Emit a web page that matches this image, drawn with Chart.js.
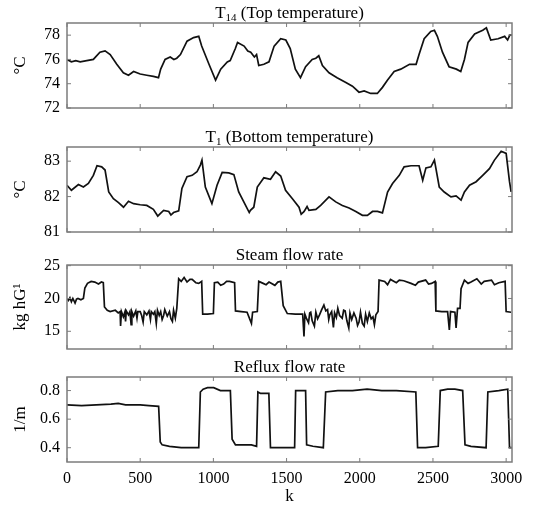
<!DOCTYPE html>
<html>
<head>
<meta charset="utf-8">
<script src="https://cdn.jsdelivr.net/npm/chart.js@4.4.1/dist/chart.umd.min.js"></script>
<style>
  html, body { margin: 0; background: #fff; }
  #wrap { position: relative; width: 552px; height: 510px; }
  #wrap canvas { position: absolute; left: 0; top: 0; }
</style>
</head>
<body>
<div id="wrap">
  <canvas id="c1" width="552" height="510"></canvas>
  <canvas id="c2" width="552" height="510"></canvas>
  <canvas id="c3" width="552" height="510"></canvas>
  <canvas id="c4" width="552" height="510"></canvas>
</div>
<script>
// sample index k and values
const t14K = [0, 30, 60, 90, 135, 180, 225, 260, 295, 340, 385, 420, 455, 500, 545, 590, 625, 640, 670, 705, 730, 750, 775, 820, 865, 900, 920, 970, 1015, 1050, 1095, 1115, 1150, 1165, 1210, 1235, 1255, 1280, 1295, 1310, 1345, 1380, 1415, 1460, 1495, 1525, 1560, 1595, 1630, 1675, 1700, 1720, 1745, 1790, 1845, 1905, 1950, 1995, 2030, 2075, 2120, 2155, 2190, 2235, 2280, 2340, 2385, 2405, 2440, 2485, 2510, 2530, 2565, 2610, 2660, 2690, 2715, 2740, 2785, 2840, 2865, 2895, 2945, 2990, 3010, 3025, 3040]
const t14 = [76.0, 75.8, 75.9, 75.8, 75.9, 76.0, 76.6, 76.7, 76.4, 75.6, 74.9, 74.7, 75.0, 74.8, 74.7, 74.6, 74.5, 75.2, 76.0, 76.2, 76.0, 76.1, 76.4, 77.5, 77.8, 77.9, 77.1, 75.6, 74.3, 75.2, 75.8, 75.9, 76.9, 77.4, 77.1, 76.7, 76.6, 76.2, 76.4, 75.5, 75.6, 75.8, 77.1, 77.7, 77.6, 76.9, 75.2, 74.5, 75.4, 76.0, 76.1, 76.3, 75.5, 74.9, 74.5, 74.1, 73.8, 73.3, 73.4, 73.2, 73.2, 73.7, 74.3, 75.0, 75.2, 75.6, 75.6, 76.4, 77.7, 78.3, 78.4, 77.9, 76.6, 75.4, 75.2, 75.0, 76.0, 77.4, 78.1, 78.4, 78.6, 77.6, 77.7, 77.9, 77.6, 78.0, 78.0]

const t1K = [0, 30, 78, 112, 146, 180, 205, 237, 260, 285, 317, 352, 386, 420, 455, 500, 545, 590, 620, 637, 660, 695, 710, 728, 763, 785, 820, 855, 888, 911, 922, 945, 990, 1025, 1060, 1105, 1140, 1173, 1220, 1245, 1253, 1276, 1300, 1345, 1390, 1425, 1460, 1493, 1540, 1585, 1600, 1620, 1640, 1653, 1700, 1733, 1790, 1836, 1881, 1927, 1973, 2018, 2052, 2087, 2121, 2155, 2190, 2224, 2270, 2303, 2350, 2405, 2430, 2452, 2486, 2510, 2543, 2577, 2623, 2658, 2692, 2715, 2750, 2795, 2840, 2886, 2920, 2966, 3000, 3023, 3034]
const t1 = [82.32, 82.18, 82.34, 82.27, 82.37, 82.6, 82.87, 82.84, 82.75, 82.13, 81.94, 81.83, 81.70, 81.87, 81.80, 81.77, 81.75, 81.64, 81.45, 81.52, 81.61, 81.58, 81.48, 81.55, 81.60, 82.23, 82.56, 82.60, 82.70, 82.89, 83.03, 82.27, 81.80, 82.32, 82.68, 82.67, 82.62, 82.13, 81.75, 81.55, 81.61, 81.70, 82.27, 82.53, 82.49, 82.70, 82.58, 82.18, 81.94, 81.70, 81.50, 81.58, 81.72, 81.61, 81.64, 81.75, 81.99, 81.85, 81.75, 81.68, 81.58, 81.47, 81.47, 81.58, 81.58, 81.54, 82.13, 82.37, 82.60, 82.84, 82.87, 82.87, 82.46, 82.81, 82.84, 83.03, 82.27, 82.13, 81.99, 82.02, 81.90, 82.13, 82.32, 82.42, 82.60, 82.79, 83.03, 83.28, 83.22, 82.42, 82.13]

const steamK = [0, 10, 20, 30, 40, 55, 65, 75, 95, 112, 122, 140, 165, 190, 215, 235, 248, 256, 275, 295, 330, 350, 363, 366, 372, 385, 395, 400, 405, 420, 430, 438, 443, 455, 470, 478, 484, 500, 510, 520, 528, 545, 560, 570, 576, 590, 600, 610, 618, 630, 640, 650, 660, 668, 685, 700, 710, 720, 728, 740, 750, 763, 780, 800, 820, 840, 855, 880, 900, 920, 927, 960, 1000, 1007, 1030, 1050, 1070, 1090, 1110, 1145, 1151, 1190, 1230, 1260, 1268, 1300, 1310, 1340, 1360, 1380, 1420, 1440, 1460, 1477, 1505, 1560, 1610, 1619, 1625, 1635, 1650, 1658, 1665, 1675, 1690, 1700, 1712, 1725, 1740, 1755, 1768, 1780, 1788, 1795, 1808, 1820, 1828, 1840, 1850, 1862, 1880, 1890, 1900, 1912, 1925, 1933, 1945, 1960, 1975, 1985, 1995, 2005, 2018, 2030, 2040, 2052, 2065, 2078, 2090, 2100, 2110, 2125, 2132, 2170, 2190, 2210, 2250, 2270, 2300, 2350, 2380, 2400, 2450, 2470, 2490, 2515, 2520, 2560, 2600, 2612, 2620, 2650, 2658, 2668, 2685, 2692, 2715, 2740, 2760, 2800, 2830, 2850, 2900, 2920, 2950, 2993, 3000, 3034]
const steam = [20.0, 19.7, 20.1, 19.5, 20.0, 19.3, 19.9, 20.0, 19.8, 20.0, 21.6, 22.3, 22.6, 22.5, 22.2, 22.5, 22.4, 18.7, 18.2, 18.0, 18.2, 17.8, 18.0, 15.8, 18.0, 17.2, 17.9, 16.5, 18.1, 17.5, 18.0, 16.0, 18.0, 17.3, 18.1, 17.0, 18.0, 18.0, 17.4, 16.4, 18.0, 17.5, 18.1, 16.8, 18.0, 17.6, 18.0, 16.2, 18.2, 17.4, 18.0, 16.8, 17.4, 18.3, 17.3, 18.0, 16.9, 16.5, 18.2, 17.0, 18.5, 23.0, 22.6, 23.2, 22.5, 22.9, 22.9, 22.4, 22.3, 22.6, 17.6, 17.6, 17.7, 22.4, 22.5, 22.0, 22.2, 22.6, 22.6, 22.4, 18.1, 18.0, 17.9, 16.2, 17.9, 18.0, 22.6, 22.3, 22.1, 22.5, 22.0, 22.5, 22.6, 18.9, 17.7, 17.6, 17.6, 14.2, 17.6, 17.0, 16.3, 17.8, 17.9, 16.6, 15.8, 17.9, 16.9, 17.5, 18.3, 19.0, 18.1, 18.3, 16.8, 17.5, 18.0, 15.6, 17.8, 17.1, 18.5, 17.4, 17.0, 18.2, 18.1, 16.6, 15.5, 17.8, 16.8, 17.8, 17.0, 15.9, 16.4, 17.9, 16.2, 15.8, 17.6, 16.5, 17.8, 16.9, 17.2, 16.0, 17.5, 18.0, 22.8, 22.6, 22.1, 22.9, 22.4, 22.8, 22.7, 22.3, 22.0, 22.5, 22.8, 22.2, 22.3, 22.6, 18.1, 18.0, 18.0, 15.2, 18.0, 17.9, 15.5, 18.5, 18.5, 21.5, 22.8, 22.3, 22.5, 23.0, 22.2, 22.6, 22.8, 22.1, 22.4, 22.6, 18.0, 17.9]

const refluxK = [0, 100, 200, 300, 350, 400, 500, 560, 626, 637, 650, 700, 780, 850, 900, 911, 930, 960, 1002, 1048, 1116, 1128, 1151, 1200, 1260, 1295, 1304, 1322, 1379, 1390, 1450, 1555, 1562, 1630, 1637, 1680, 1751, 1767, 1850, 1950, 2050, 2150, 2250, 2383, 2395, 2450, 2536, 2550, 2600, 2650, 2703, 2719, 2760, 2863, 2875, 2950, 3011, 3023, 3040]
const reflux = [0.70, 0.695, 0.70, 0.705, 0.71, 0.70, 0.70, 0.695, 0.69, 0.44, 0.42, 0.41, 0.40, 0.40, 0.40, 0.79, 0.81, 0.82, 0.82, 0.80, 0.80, 0.46, 0.42, 0.42, 0.42, 0.41, 0.79, 0.78, 0.78, 0.40, 0.40, 0.40, 0.80, 0.80, 0.42, 0.41, 0.40, 0.79, 0.80, 0.80, 0.81, 0.80, 0.80, 0.79, 0.40, 0.40, 0.41, 0.80, 0.81, 0.81, 0.80, 0.42, 0.41, 0.40, 0.79, 0.80, 0.81, 0.40, 0.40]

const xTicks = [0, 500, 1000, 1500, 2000, 2500, 3000]

Chart.defaults.font.family = "'Liberation Serif', 'Times New Roman', serif"
Chart.defaults.color = '#000'

// box, inward ticks and the panel title
const frame = {
  id: 'frame',
  afterDraw(chart, args, opts) {
    const { ctx, chartArea: a, scales } = chart
    ctx.save()
    ctx.strokeStyle = '#7c7c7c'
    ctx.lineWidth = 1.5
    ctx.strokeRect(a.left, a.top, a.right - a.left, a.bottom - a.top)
    ctx.lineWidth = 1
    ctx.beginPath()
    scales.y.ticks.forEach(t => {
      const y = scales.y.getPixelForValue(t.value)
      ctx.moveTo(a.left, y); ctx.lineTo(a.left + 4, y)
      ctx.moveTo(a.right - 4, y); ctx.lineTo(a.right, y)
    })
    xTicks.forEach(v => {
      const x = scales.x.getPixelForValue(v)
      ctx.moveTo(x, a.top); ctx.lineTo(x, a.top + 4)
      ctx.moveTo(x, a.bottom - 4); ctx.lineTo(x, a.bottom)
    })
    ctx.stroke()

    const fam = Chart.defaults.font.family
    const big = '17px ' + fam, small = '11px ' + fam
    let w = 0
    opts.title.forEach(p => { ctx.font = p[1] ? small : big; w += ctx.measureText(p[0]).width })
    let x = (a.left + a.right) / 2 - w / 2
    const base = a.top - 5
    ctx.fillStyle = '#000'
    ctx.textBaseline = 'alphabetic'
    ctx.textAlign = 'left'
    opts.title.forEach(p => {
      ctx.font = p[1] ? small : big
      ctx.fillText(p[0], x, p[1] ? base + 3 : base)
      x += ctx.measureText(p[0]).width
    })
    ctx.restore()
  }
}

function panel(id, ks, vs, cfg) {
  const points = ks.map((k, i) => ({ x: k, y: vs[i] }))
  return new Chart(document.getElementById(id), {
    type: 'line',
    data: {
      datasets: [{
        data: points,
        borderColor: '#111',
        borderWidth: 1.7,
        pointRadius: 0,
        tension: 0,
        fill: false,
      }],
    },
    options: {
      responsive: false,
      animation: false,
      events: [],
      layout: { padding: { left: 0, right: 40, top: cfg.top, bottom: cfg.bottom } },
      plugins: {
        legend: { display: false },
        tooltip: { enabled: false },
        frame: { title: cfg.title },
      },
      scales: {
        x: {
          type: 'linear',
          min: 0,
          max: 3040,
          display: cfg.showX,
          grid: { display: false, drawTicks: false },
          border: { display: false },
          ticks: { padding: 7, maxRotation: 0, autoSkip: false, font: { size: 16 }, callback: v => String(v) },
          title: { display: true, text: 'k', font: { size: 17 }, padding: { top: 0, bottom: 3 } },
          afterBuildTicks(s) { s.ticks = xTicks.map(v => ({ value: v })) },
          afterFit(s) { s.height = cfg.showX ? 48 : 0 },
        },
        y: {
          min: cfg.min,
          max: cfg.max,
          grid: { display: false, drawTicks: false },
          border: { display: false },
          ticks: { stepSize: cfg.step, includeBounds: false, autoSkip: false, padding: 7, font: { size: 16 } },
          title: { display: true, text: cfg.yLabel, font: { size: 17 }, padding: { top: 10, bottom: 0 } },
          afterFit(s) { s.width = 67 },
        },
      },
    },
    plugins: [frame],
  })
}

panel('c1', t14K, t14, {
  top: 23, bottom: 402, showX: false, min: 72, max: 79, step: 2, yLabel: '°C',
  title: [['T', 0], ['14', 1], [' (Top temperature)', 0]],
})
panel('c2', t1K, t1, {
  top: 147, bottom: 278, showX: false, min: 81, max: 83.4, step: 1, yLabel: '°C',
  title: [['T', 0], ['1', 1], [' (Bottom temperature)', 0]],
})
panel('c3', steamK, steam, {
  top: 265, bottom: 161, showX: false, min: 12.3, max: 25.1, step: 5, yLabel: 'kg hG¹',
  title: [['Steam flow rate', 0]],
})
panel('c4', refluxK, reflux, {
  top: 377, bottom: 0, showX: true, min: 0.3, max: 0.895, step: 0.2, yLabel: '1/m',
  title: [['Reflux flow rate', 0]],
})
</script>
</body>
</html>
